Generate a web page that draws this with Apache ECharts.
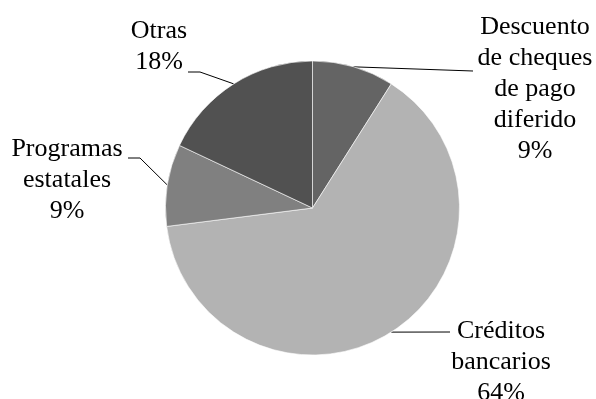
<!DOCTYPE html>
<html>
<head>
<meta charset="utf-8">
<script src="https://cdn.jsdelivr.net/npm/echarts@6/dist/echarts.min.js"></script>
<style>
  html, body { margin: 0; padding: 0; background: #ffffff; }
  #chart { width: 596px; height: 399px; }
</style>
</head>
<body>
<div id="chart"></div>
<script>
// Financing sources, share of total (%)
const categories = [
  'Descuento\nde cheques\nde pago\ndiferido',
  'Créditos\nbancarios',
  'Programas\nestatales',
  'Otras'
];
const shares = [9, 64, 9, 18];
const sliceColors = ['#646464', '#b3b3b3', '#808080', '#515151'];

// Label placement: block centre (x, y) and where the leader line meets the text
const labelSpots = [
  { x: 535, y: 89,  bend: [473, 71],  end: [473, 71] },
  { x: 501, y: 362, bend: [450, 332], end: [450, 332] },
  { x: 67,  y: 180, bend: [140, 158], end: [128, 158] },
  { x: 159, y: 47,  bend: [200, 72],  end: [188, 72] }
];

const chart = echarts.init(document.getElementById('chart'), null, { renderer: 'canvas' });

chart.setOption({
  animation: false,
  backgroundColor: '#ffffff',
  series: [{
    type: 'pie',
    center: [312.5, 208],
    radius: 147,
    startAngle: 90,
    clockwise: true,
    data: categories.map((name, i) => ({
      name: name,
      value: shares[i],
      itemStyle: { color: sliceColors[i] }
    })),
    itemStyle: { borderColor: '#ffffff', borderWidth: 0.6 },
    label: {
      show: true,
      position: 'outside',
      formatter: p => p.name + '\n' + p.value + '%',
      fontFamily: '"Liberation Serif", "Times New Roman", serif',
      fontSize: 26,
      lineHeight: 31,
      color: '#000000',
      align: 'center'
    },
    labelLine: {
      show: true,
      length: 10,
      length2: 10,
      lineStyle: { color: '#000000', width: 1 }
    },
    emphasis: { disabled: true },
    labelLayout: function (params) {
      const spot = labelSpots[params.dataIndex];
      const start = params.labelLinePoints ? params.labelLinePoints[0] : spot.bend;
      return {
        x: spot.x,
        y: spot.y,
        align: 'center',
        verticalAlign: 'middle',
        labelLinePoints: [start, spot.bend, spot.end]
      };
    }
  }]
});
</script>
</body>
</html>
